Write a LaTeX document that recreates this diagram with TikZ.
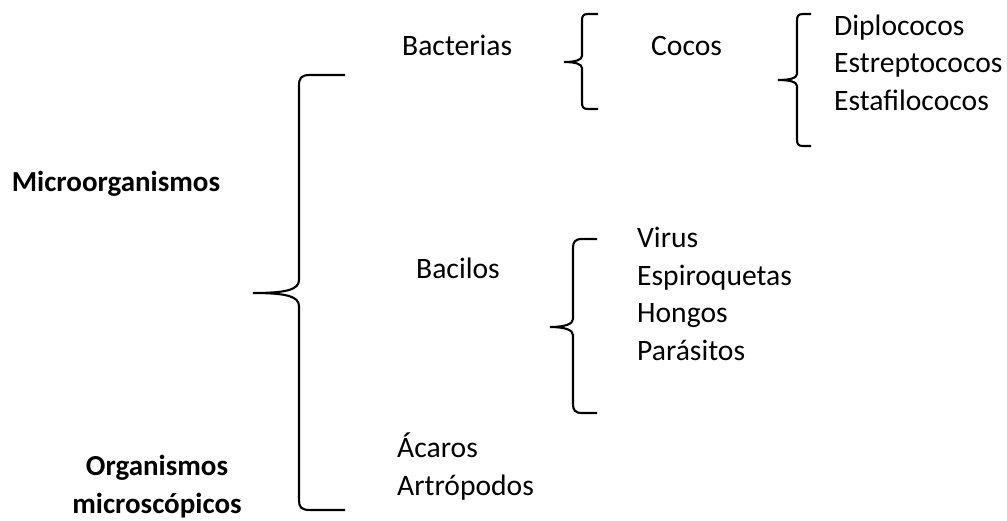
\documentclass[tikz,border=0pt]{standalone}
\usepackage{fontspec}
\setmainfont{Carlito}
\usepackage{tikz}
\tikzset{txt/.style={anchor=base west, inner sep=0pt, font=\fontsize{29.6}{35}\selectfont},
         titulo/.style={anchor=base, inner sep=0pt, font=\fontsize{29}{35}\selectfont\bfseries},
         llave/.style={line width=2.1pt}}

\begin{document}
\begin{tikzpicture}[x=1pt, y=-1pt]
                    \useasboundingbox (0,0) rectangle (1007,520);

                    \node[titulo] (micro) at (116,191) {Microorganismos};
                    \node[titulo] (org) at (157,475) {Organismos};
                    \node[titulo] (mic) at (157,513) {microscópicos};

                    \node[txt] (bact) at (402,55) {Bacterias};
                    \node[txt] (cocos) at (651,55) {Cocos};
                    \node[txt] (diplo) at (834,35) {Diplococos};
                    \node[txt] (estrep) at (834,72) {Estreptococos};
                    \node[txt] (estaf) at (834,110) {Estafilococos};

                    \node[txt] (bacilos) at (416,278) {Bacilos};
                    \node[txt] (virus) at (637,247) {Virus};
                    \node[txt] (espiro) at (637,285) {Espiroquetas};
                    \node[txt] (hongos) at (637,322) {Hongos};
                    \node[txt] (parasitos) at (637,360) {Parásitos};

                    \node[txt] (acaros) at (397,457) {Ácaros};
                    \node[txt] (artro) at (397,495) {Artrópodos};

                    % llave grande
                    \draw[llave] (345,75) -- (310,75) .. controls (301,75) and (299,78) .. (299,86)
                        -- (299,280) .. controls (299,290) and (285,293) .. (253,293)
                        .. controls (285,293) and (299,296) .. (299,306)
                        -- (299,500) .. controls (299,507) and (301,510) .. (310,510) -- (345,510);

                    % llave bacterias
                    \draw[llave] (598,14) -- (588,14) .. controls (583,14) and (582,16) .. (582,21)
                        -- (582,56) .. controls (582,60) and (575,62) .. (564,62)
                        .. controls (575,62) and (582,64) .. (582,68)
                        -- (582,102) .. controls (582,107) and (583,109) .. (588,109) -- (598,109);

                    % llave cocos
                    \draw[llave] (811,14) -- (803,14) .. controls (798,14) and (797,16) .. (797,21)
                        -- (797,74) .. controls (797,78) and (790,80) .. (778,80)
                        .. controls (790,80) and (797,82) .. (797,86)
                        -- (797,139) .. controls (797,144) and (798,146) .. (803,146) -- (811,146);

                    % llave bacilos
                    \draw[llave] (597,239) -- (582,239) .. controls (575,239) and (573,242) .. (573,248)
                        -- (573,319) .. controls (573,324) and (565,327) .. (550,327)
                        .. controls (565,327) and (573,330) .. (573,335)
                        -- (573,404) .. controls (573,410) and (575,413) .. (582,413) -- (597,413);

                 \end{tikzpicture}
\end{document}
